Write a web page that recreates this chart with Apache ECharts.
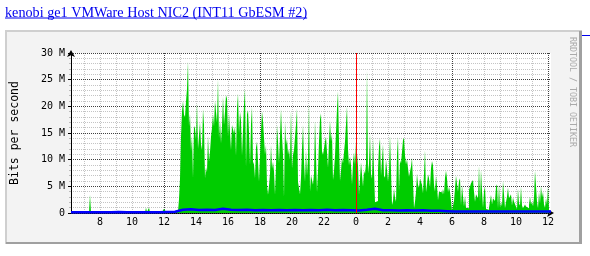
<!DOCTYPE html>
<html><head><meta charset="utf-8">
<script src="https://cdn.jsdelivr.net/npm/echarts@6/dist/echarts.min.js"></script>
<style>html,body{margin:0;padding:0;background:#fff;}#c{width:590px;height:256px;}</style>
</head><body><div id="c"></div>
<script>
// ---- texts ----
const titleText = 'kenobi ge1 VMWare Host NIC2 (INT11 GbESM #2)';
const yAxisTitle = 'Bits per second';
const watermark = 'RRDTOOL / TOBI OETIKER';

// ---- time axis (hours since midnight of first day) ----
const startHour = 6.1875;
const endHour = 36.1875;
const xTickHours = [8, 10, 12, 14, 16, 18, 20, 22, 24, 26, 28, 30, 32, 34, 36];
const xTickLabels = ['8', '10', '12', '14', '16', '18', '20', '22', '0', '2', '4', '6', '8', '10', '12'];
const minorHours = [7,8,9,10,11,12,13,14,15,16,17,18,19,20,21,22,23,24,25,26,27,28,29,30,31,32,33,34,35,36];
const majorHours = [12, 18, 30, 36];
const nowHour = [24];

// ---- value axis (Mbit/s) ----
const yTickValues = [0, 5, 10, 15, 20, 25, 30];
const yTickLabels = ['0', '5 M', '10 M', '15 M', '20 M', '25 M', '30 M'];

// ---- inbound (green area), one sample per 1/16 hour from startHour, Mbit/s ----
const inStep = 1 / 16;
const inValues = [
  0.1,0.1,0.1,0.1,0.1,0.1,0.1,0.1,0.1,0.1,
  0.1,0.1,0.1,0.1,0.1,0.1,0.1,0.1,0.1,3.4,
  0.1,0.1,0.1,0.1,0.1,0.1,0.1,0.1,0.1,0.1,
  0.1,0.1,0.1,0.1,0.1,0.1,0.4,0.1,0.1,0.1,
  0.1,0.1,0.1,0.1,0.1,0.1,0.4,0.4,0.1,0.1,
  0.1,0.1,0.1,0.3,0.1,0.1,0.1,0.1,0.1,0.1,
  0.1,0.1,0.1,0.1,0.1,0.1,0.1,0.1,0.1,0.1,
  0.1,0.1,0.1,0.1,0.1,1.0,0.2,0.2,1.0,0.15,
  0.15,0.15,0.15,0.15,0.15,0.15,0.15,0.15,0.15,0.4,
  0.2,0.2,0.2,0.8,0.7,0.25,0.25,0.25,0.25,0.25,
  0.25,0.25,0.25,0.25,0.25,0.25,0.25,0.25,
  2.6,6.4,14.3,19.1,21,18.4,18,20.9,23.3,28.4,
  16.2,18.6,11.6,14.5,6.5,16.3,15.9,13.8,20.7,12,
  12,17,12.9,11.8,19.5,16.5,6.5,8.6,7.6,14.6,
  9.6,11.5,14.3,16,18.5,16.2,21,21,16.9,25.1,
  14,17.4,13.1,16.3,21.8,16.5,19,22.1,21.4,14.3,
  18.7,15.1,11.8,16.5,16.5,14.9,16.2,10.7,19.5,22.4,
  14.9,19,17.3,10.8,10.9,20.3,23.3,8.6,18.5,19.3,
  15.1,9,16.7,19.9,9.6,9.1,6.5,12.3,13.4,13.3,
  5.9,5.9,15.4,19.1,17.3,17.3,10.9,12.8,5.3,
  3.4,5.1,7.4,12.8,8.3,9.6,7.8,3.4,8.7,16.5,
  13.4,9.3,9.3,19.5,14.5,10.9,2.9,17.1,12.8,13.9,
  10.9,12.1,9.9,19.3,8.3,10.9,11.8,11.8,16.6,19.6,
  5.8,5.6,3.5,6.6,12,16.5,9.6,5.8,11.8,7,
  10.3,20.6,4,7.1,7.1,5.3,7.4,17.4,10.8,3.9,
  7.9,13.5,17.6,18.7,11.6,10.9,12.1,13.4,14.3,14.3,
  8.5,13.4,17.3,13.4,14.9,6.2,7.9,10.8,10.8,19.6,
  22.8,13.3,6,7.9,10.4,9.3,9.3,13.4,13.4,19.9,
  12,8.9,10.6,8.9,5.4,9.3,11.4,9,13.4,13.5,
  8.9,3.4,3.1,9.5,9.5,
  4.9,7.9,7.3,9.3,26.8,7.4,9.3,14.9,7.3,6.4,
  14,13.9,2,2,2.25,8.2,12.4,14,7,6.8,
  12.9,7,6.6,10.1,8.1,5.9,7.9,14.6,7.9,1.5,
  2.25,4.6,2.9,2.1,11,14.3,4.1,9.9,9.3,9.5,
  13.7,14.1,10.8,9.1,10.1,9.9,6.8,6.6,8.7,10.3,
  5.9,0.9,2.1,4,7.4,5.3,4.75,6.4,6.2,5.3,
  3.7,7.4,11.8,3.9,5.4,7.25,6.5,4.75,8.4,9.75,
  8.9,5.25,4,7,5.1,2.4,4,4.1,3.9,3.4,
  4.5,3.5,6.6,7.9,6.5,3.9,4.9,4,2.25,0.4,
  0.4,2.25,2.25,
  7,7,4,6,6.5,1.4,5.25,3.1,1.2,3.25,
  1,0.9,0.9,4.3,4.6,5.6,5.75,6.2,4,2.1,
  3.5,3.25,2.75,8.9,2.1,8.1,4.1,1,4.1,4.9,
  0.75,0.6,0.6,1,0.9,3.4,1.6,2.75,2.75,2.25,
  4.9,5.4,0.9,5.4,1,2.1,1.2,6,6,0.9,
  2,3.1,4.75,2.75,2.9,3.5,1.4,2.9,2.1,2.25,
  1.2,0.75,4.5,1.8,1.4,4.9,1.4,0.9,1.2,1.6,
  1.2,0.9,0.9,1.5,3.1,1.6,2.1,1.2,2.9,7.9,
  7.9,2.1,0.9,4,1.8,5.1,2.9,4,1.6,1,
  2.75,1.6,4.9,0.75
];

// ---- outbound (blue line), one sample per half hour from startHour, Mbit/s ----
const outStep = 0.5;
const outValues = [
  0.15,0.15,0.15,0.15,0.15,0.15,0.2,0.15,0.15,0.15,0.15,0.15,0.2,0.25,
  0.6,0.7,0.55,0.6,0.55,0.8,0.6,0.55,0.6,0.5,
  0.55,0.5,0.55,0.5,0.55,0.5,0.55,0.5,0.6,0.5,
  0.55,0.5,0.45,0.6,0.8,0.5,0.5,0.45,0.5,0.45,
  0.5,0.4,0.4,0.35,
  0.3,0.3,0.3,0.3,0.3,0.3,0.3,0.3,0.3,0.3,0.3,0.3,0.3
];

const inData = inValues.map((v, i) => [startHour + i * inStep, v]);
const outData = outValues.map((v, i) => [startHour + i * outStep, v]);

const chart = echarts.init(document.getElementById('c'), null, {renderer: 'canvas'});
const MONO = 'DejaVu Sans Mono';
const TITLE_FONT = '14.2px "Liberation Serif"';
const minorGrid = {color: '#c4c4c4', width: 1, type: [1, 1]};
const majorGrid = {color: '#404040', width: 1, type: [1, 1]};

const ctx = document.createElement('canvas').getContext('2d');
ctx.font = TITLE_FONT;
const titleW = ctx.measureText(titleText).width;

const hiddenAxis = (extra) => Object.assign({
  type: 'value', min: startHour, max: endHour, gridIndex: 0, position: 'top',
  axisLine: {show: false}, axisLabel: {show: false}
}, extra);

chart.setOption({
  animation: false,
  backgroundColor: '#ffffff',
  graphic: [
    {type: 'rect', z: -10, silent: true, shape: {x: 5, y: 30, width: 577, height: 214}, style: {fill: '#F3F3F3'}},
    {type: 'rect', z: -9, silent: true, shape: {x: 5, y: 30, width: 577, height: 2}, style: {fill: '#CFCFCF'}},
    {type: 'rect', z: -9, silent: true, shape: {x: 5, y: 30, width: 2, height: 214}, style: {fill: '#CFCFCF'}},
    {type: 'rect', z: -9, silent: true, shape: {x: 579, y: 31, width: 3, height: 213}, style: {fill: '#A0A0A0'}},
    {type: 'rect', z: -9, silent: true, shape: {x: 6, y: 242, width: 576, height: 2}, style: {fill: '#A0A0A0'}},
    {type: 'rect', z: 5, silent: true, shape: {x: 582, y: 35, width: 8, height: 1}, style: {fill: '#0000EE'}},
    {type: 'text', z: 5, x: 5, y: 13, style: {text: titleText, font: TITLE_FONT, fill: '#0000EE', align: 'left', verticalAlign: 'middle'}},
    {type: 'rect', z: 5, silent: true, shape: {x: 5, y: 17.5, width: titleW, height: 1}, style: {fill: '#0000EE'}},
    {type: 'text', z: 5, x: 572.5, y: 37, rotation: -Math.PI / 2, style: {text: watermark, font: '8.3px "' + MONO + '"', fill: '#AAAAAA', align: 'left', verticalAlign: 'middle'}}
  ],
  grid: {left: 71, top: 53, width: 480, height: 160, show: true, backgroundColor: '#ffffff', borderWidth: 0},
  xAxis: [
    {
      type: 'value', min: startHour, max: endHour, z: 0, position: 'bottom',
      axisLine: {show: true, lineStyle: {color: '#000', width: 1}, symbol: ['none', 'arrow'], symbolSize: [6, 7], symbolOffset: [0, 3]},
      axisTick: {show: false, customValues: minorHours},
      axisLabel: {customValues: xTickHours, formatter: v => xTickLabels[xTickHours.indexOf(v)], fontFamily: MONO, fontSize: 10, color: '#000', margin: 4},
      splitLine: {show: true, lineStyle: minorGrid}
    },
    hiddenAxis({z: 1, axisTick: {show: false, customValues: majorHours}, splitLine: {show: true, lineStyle: majorGrid}}),
    hiddenAxis({z: 10, axisTick: {show: false, customValues: nowHour}, splitLine: {show: true, lineStyle: {color: '#FF0000', width: 1, type: 'solid'}}})
  ],
  yAxis: {
    type: 'value', min: 0, max: 30, interval: 5, z: 1,
    name: yAxisTitle, nameLocation: 'middle', nameGap: 50,
    nameTextStyle: {fontFamily: MONO, fontSize: 11.5, color: '#000'},
    axisLine: {show: true, lineStyle: {color: '#000', width: 1}, symbol: ['none', 'arrow'], symbolSize: [6, 7], symbolOffset: [0, 3]},
    axisTick: {show: true, length: 3, lineStyle: {color: '#000'}},
    minorTick: {show: true, splitNumber: 5, length: 2, lineStyle: {color: '#bbb'}},
    axisLabel: {formatter: v => yTickLabels[yTickValues.indexOf(v)], fontFamily: MONO, fontSize: 10, color: '#000', margin: 6},
    splitLine: {show: true, lineStyle: majorGrid},
    minorSplitLine: {show: true, lineStyle: minorGrid}
  },
  series: [
    {type: 'line', name: 'In', data: inData, step: 'end', showSymbol: false, z: 2, xAxisIndex: 0,
     lineStyle: {width: 0}, areaStyle: {color: '#00CC00', opacity: 1}, silent: true},
    {type: 'line', name: 'Out', data: outData, showSymbol: false, z: 3, xAxisIndex: 0, silent: true,
     lineStyle: {width: 2.5, color: '#0000FF'}, itemStyle: {color: '#0000FF'}}
  ]
});
</script></body></html>
